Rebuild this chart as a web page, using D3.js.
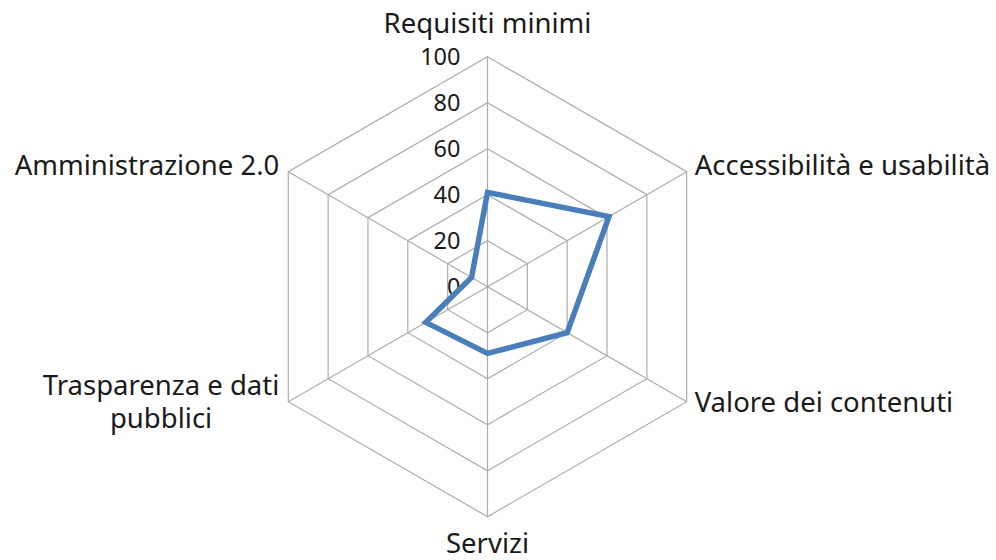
<!DOCTYPE html>
<html lang="it">
  <head>
    <meta charset="UTF-8" />
    <title>Radar</title>
    <style>
      body { margin: 0; background: #fff; }
      svg { display: block; }
      .grid { fill: none; stroke: #adadad; stroke-width: 1.2; }
      .spoke { stroke: #adadad; stroke-width: 1.2; }
      .tick { font-family: "Noto Sans", sans-serif; font-size: 23.5px; fill: #1a1a1a; }
      .cat { font-family: "Noto Sans", sans-serif; font-size: 27.5px; fill: #1a1a1a; }
      .serie { fill: none; stroke: #4a7ebb; stroke-width: 5.5; stroke-linejoin: miter; }
    </style>
  </head>
  <body>
    <svg width="996" height="560"></svg>
    <script src="https://d3js.org/d3.v7.min.js"></script>
    <script>
      // dati
      const categorie = [
        "Requisiti minimi",
        "Accessibilità e usabilità",
        "Valore dei contenuti",
        "Servizi",
        "Trasparenza e dati pubblici",
        "Amministrazione 2.0"
      ];
      const valori = [41, 61, 40, 29, 31, 8];
      const ticks = [0, 20, 40, 60, 80, 100];

      const svg = d3.select("svg");
      const cx = 487.5, cy = 286.7, R = 230;
      const r = d3.scaleLinear().domain([0, 100]).range([0, R]);
      const n = categorie.length;
      const ang = (i) => (i * 2 * Math.PI) / n; // 0 = verso l'alto, senso orario
      const pt = (i, v) => [cx + r(v) * Math.sin(ang(i)), cy - r(v) * Math.cos(ang(i))];

      const g = svg.append("g");

      // griglia esagonale
      g.selectAll(".grid")
        .data(ticks.filter((t) => t > 0))
        .enter()
        .append("polygon")
        .attr("class", "grid")
        .attr("points", (t) => d3.range(n).map((i) => pt(i, t).join(",")).join(" "));

      // raggi
      g.selectAll(".spoke")
        .data(d3.range(n))
        .enter()
        .append("line")
        .attr("class", "spoke")
        .attr("x1", cx).attr("y1", cy)
        .attr("x2", (i) => pt(i, 100)[0])
        .attr("y2", (i) => pt(i, 100)[1]);

      // etichette asse
      g.selectAll(".tick")
        .data(ticks)
        .enter()
        .append("text")
        .attr("class", "tick")
        .attr("x", cx - 27)
        .attr("y", (t) => cy - r(t))
        .attr("dy", "0.35em")
        .attr("text-anchor", "end")
        .text((t) => t);

      // serie
      const line = d3.line().curve(d3.curveLinearClosed);
      g.append("path")
        .attr("class", "serie")
        .attr("d", line(valori.map((v, i) => pt(i, v))));

      // etichette categorie
      categorie.forEach((c, i) => {
        const [vx, vy] = pt(i, 100);
        const s = Math.sin(ang(i)), co = Math.cos(ang(i));
        const t = g.append("text").attr("class", "cat");
        if (Math.abs(s) < 0.01) {
          // alto / basso
          t.attr("x", vx).attr("text-anchor", "middle")
            .attr("y", co > 0 ? vy - 24 : vy + 36)
            .text(c);
          return;
        }
        const right = s > 0;
        const x = right ? vx + 8 : vx - 9;
        let lines = [c];
        if (c === "Trasparenza e dati pubblici") lines = ["Trasparenza e dati", "pubblici"];
        if (lines.length === 1) {
          t.attr("x", x).attr("text-anchor", right ? "start" : "end")
            .attr("y", co > 0 ? vy + 3 : vy + 10)
            .text(c);
        } else {
          t.attr("text-anchor", "middle");
          const sp = lines.map((l, k) =>
            t.append("tspan").attr("y", vy - 7 + k * 33).text(l)
          );
          const w = d3.max(sp, (s) => s.node().getComputedTextLength());
          const mx = right ? x + w / 2 : x - w / 2;
          sp.forEach((s) => s.attr("x", mx));
        }
      });
    </script>
  </body>
</html>
